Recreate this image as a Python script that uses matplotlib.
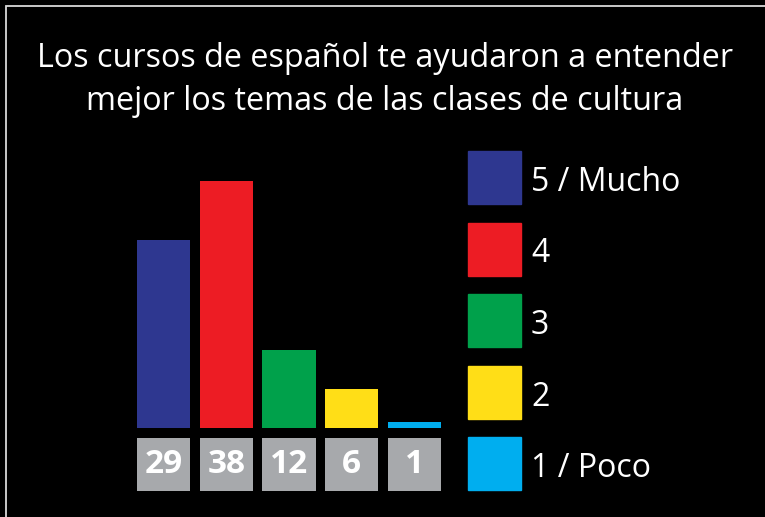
import matplotlib
matplotlib.use("Agg")
import matplotlib.pyplot as plt
from matplotlib.patches import Rectangle

plt.rcParams['font.family'] = ['Open Sans', 'DejaVu Sans']

title_lines = ["Los cursos de español te ayudaron a entender",
               "mejor los temas de las clases de cultura"]
categories = ["5 / Mucho", "4", "3", "2", "1 / Poco"]
values = [29, 38, 12, 6, 1]
colors = ["#2E3790", "#ED1C24", "#00A14B", "#FFDE17", "#00AEEF"]

W, H = 765, 517
fig = plt.figure(figsize=(W / 100, H / 100), dpi=100, facecolor="black")


def fig_box(left, top, right, bottom):
    """Pixel box (origin top-left) -> figure-fraction rect."""
    return [left / W, 1 - bottom / H, (right - left) / W, (bottom - top) / H]


# frame line around the panel
fig.patches.append(Rectangle((6.5 / W, -0.05), 1.2, 1 - 5.5 / H + 0.05,
                             transform=fig.transFigure, fill=False,
                             edgecolor="#d9d9d9", linewidth=1.3))

# title
fig.text(385 / W, 1 - 58 / H, title_lines[0], ha="center", va="center",
         color="white", fontsize=23.3)
fig.text(385 / W, 1 - 102 / H, title_lines[1], ha="center", va="center",
         color="white", fontsize=23.3)

# bars
x = list(range(len(values)))
bw = 0.845
ax = fig.add_axes(fig_box(137, 181, 441, 428))
ax.bar(x, values, width=bw, color=colors)
ax.set_xlim(-bw / 2, len(values) - 1 + bw / 2)
ax.set_ylim(0, max(values))
ax.axis("off")

# grey value boxes under the bars
axv = fig.add_axes(fig_box(137, 438, 441, 491))
axv.bar(x, [1] * len(values), width=bw, color="#A7A9AC")
for xi, v in zip(x, values):
    axv.text(xi, 0.5, str(v), ha="center", va="center", color="white",
             fontsize=24, fontweight="bold")
axv.set_xlim(-bw / 2, len(values) - 1 + bw / 2)
axv.set_ylim(0, 1)
axv.axis("off")

# legend
sq_left, sq_size = 468, 53
first_top, step = 151, 71.5
for i, (lab, c) in enumerate(zip(categories, colors)):
    top = first_top + i * step
    fig.patches.append(Rectangle((sq_left / W, 1 - (top + sq_size) / H),
                                 sq_size / W, sq_size / H,
                                 transform=fig.transFigure, color=c))
    fig.text(531 / W, 1 - (top + sq_size / 2 + 5) / H, lab, ha="left",
             va="center", color="white", fontsize=23)

fig.savefig("out.png", dpi=100, facecolor="black")
